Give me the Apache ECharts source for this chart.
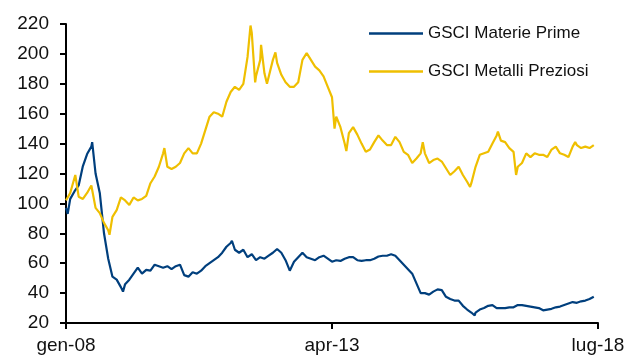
<!DOCTYPE html>
<html>
<head>
<meta charset="utf-8">
<script src="https://cdn.jsdelivr.net/npm/echarts@6/dist/echarts.min.js"></script>
<style>
  html, body { margin: 0; padding: 0; background: #fff; }
  #chart { width: 631px; height: 359px; }
</style>
</head>
<body>
<div id="chart"></div>
<script>
// mesi in italiano per le etichette dell'asse x (gen-08 ... lug-18)
const mesi = ['gen', 'feb', 'mar', 'apr', 'mag', 'giu', 'lug', 'ago', 'set', 'ott', 'nov', 'dic']
const xTicks = [0, 63, 126] // gen-08, apr-13, lug-18 (indice mese)

// valori mensili, indice 0 = gen-08
const materiePrime = [
  97, 103, 108, 112, 125, 133, 138, 120, 107, 80, 63, 51,
  49, 44, 46, 49, 53, 57, 53, 55.5, 55, 59, 58, 57,
  58, 56, 58, 59, 52, 51, 54, 53, 55, 58, 60, 62,
  64, 67, 71, 73.5, 69, 67, 69, 64, 66, 62, 64, 63,
  65, 67, 69.5, 67, 62, 55, 61, 64, 67, 64, 63, 62,
  64, 65, 63, 61, 62, 61.5, 63, 64, 64, 62, 61.5, 62,
  62, 63, 64.5, 65, 65, 66, 65, 62, 59, 56, 53, 46.5,
  40, 40, 39, 41, 42.5, 42, 37.5, 36, 35, 35, 31.5, 29,
  27, 27, 29, 30, 31.5, 32, 30, 30, 30, 30.5, 30.5, 32,
  32, 31.5, 31, 30.5, 30, 28.5, 29, 29.5, 30.5, 31, 32, 33,
  34, 33.5, 34.5, 35, 36, 37.5
]
const metalliPreziosi = [
  102, 107, 117, 104.5, 103, 107, 112, 97, 93.5, 87, 82, 91,
  95.5, 104, 102, 99, 104, 102, 103, 105, 113.5, 118, 124.5, 133.5,
  124.5, 123, 124.5, 127, 133.5, 137, 133.5, 133.5, 140, 149, 158, 161,
  160, 158, 168, 174.5, 178, 176, 180, 198, 214, 185, 196, 187,
  180, 196, 194, 186, 181, 178, 178, 181, 196, 200.5, 196, 191.5,
  189, 185, 178, 171, 158, 151, 140, 147, 151, 146, 140, 134.5,
  136, 141, 145.5, 142, 139, 139, 144.5, 141, 134.5, 132.5, 127, 130,
  133.5, 133.5, 127, 129, 130, 128, 123.5, 119, 121.5, 124.5, 119, 114.5,
  113.5, 124.5, 132.5, 133.5, 134.5, 140, 145.5, 142, 141, 137, 134.5, 124.5,
  127, 133.5, 131, 133.5, 132.5, 132.5, 131, 136, 138, 133.5, 132.5, 131,
  138, 139, 137, 138, 137, 139
]

// picchi e minimi dentro il mese [posizione mese, valore]
const materiePrimeExtra = [[0.4, 93], [6.2, 141], [13.5, 41], [39.3, 75], [53.3, 54], [96.8, 25]]
const metalliPreziosiExtra = [
  [2.2, 119], [10.3, 79], [23.3, 137], [43.7, 219], [44.8, 181], [46.2, 206],
  [47.6, 180], [49.6, 201], [63.6, 150], [66.4, 135], [84.5, 141], [95.7, 111],
  [102.3, 148], [106.6, 119], [120.6, 141]
]

const buildSeries = (monthly, extra) => {
  const pts = monthly.map((v, i) => [i, v]).concat(extra)
  return pts.sort((a, b) => a[0] - b[0])
}

const font = "'Liberation Sans', Arial, sans-serif"
const myChart = echarts.init(document.getElementById('chart'))
const option = {
  animation: false,
  textStyle: { fontFamily: font },
  legend: {
    orient: 'vertical',
    left: 364,
    top: 20,
    icon: 'rect',
    itemWidth: 54,
    itemHeight: 2.5,
    itemGap: 21,
    textStyle: { fontSize: 17, color: '#111', fontFamily: font },
    data: ['GSCI Materie Prime', 'GSCI Metalli Preziosi']
  },
  grid: { left: 66, right: 33, top: 24, bottom: 36, containLabel: false },
  xAxis: {
    type: 'value',
    min: 0,
    max: 126,
    interval: 63,
    splitLine: { show: false },
    axisLine: { show: true, lineStyle: { color: '#000', width: 2 } },
    axisTick: { show: true, length: 6, lineStyle: { color: '#000', width: 2 } },
    axisLabel: {
      fontSize: 19,
      color: '#111',
      margin: 13,
      fontFamily: font,
      formatter: (v) => {
        if (xTicks.indexOf(v) < 0) return ''
        const yy = 8 + Math.floor(v / 12)
        return mesi[v % 12] + '-' + (yy < 10 ? '0' + yy : yy)
      }
    }
  },
  yAxis: {
    type: 'value',
    min: 20,
    max: 220,
    interval: 20,
    splitLine: { show: false },
    axisLine: { show: true, lineStyle: { color: '#000', width: 2 } },
    axisTick: { show: true, length: 6, lineStyle: { color: '#000', width: 2 } },
    axisLabel: { fontSize: 19, color: '#111', margin: 17, fontFamily: font }
  },
  series: [
    {
      name: 'GSCI Materie Prime',
      type: 'line',
      symbol: 'none',
      data: buildSeries(materiePrime, materiePrimeExtra),
      lineStyle: { color: '#003f7d', width: 2.2 },
      itemStyle: { color: '#003f7d' }
    },
    {
      name: 'GSCI Metalli Preziosi',
      type: 'line',
      symbol: 'none',
      data: buildSeries(metalliPreziosi, metalliPreziosiExtra),
      lineStyle: { color: '#efbf00', width: 2.2 },
      itemStyle: { color: '#efbf00' }
    }
  ]
}
myChart.setOption(option)
</script>
</body>
</html>
